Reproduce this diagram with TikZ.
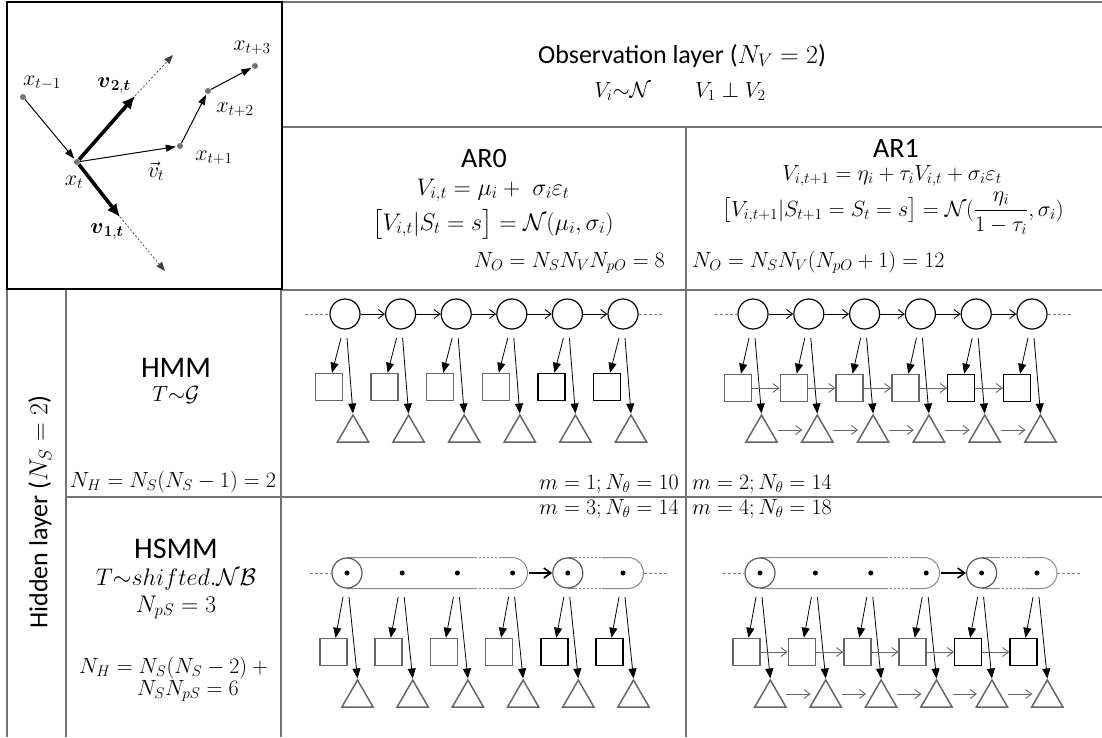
\RequirePackage{fix-cm}
\documentclass[tikz,border=0pt]{standalone}
\usepackage{amsmath}
\usepackage[no-math]{fontspec}
\newfontfamily\calibri{Carlito}
\usetikzlibrary{arrows.meta,shapes.geometric,calc}
\newcommand\fsz[1]{\fontsize{#1}{#1}\selectfont}
\begin{document}
\begin{tikzpicture}[x=1pt,y=-1pt,
  tbl/.style={draw=black!55,line width=1.1pt},
  lbl/.style={inner sep=0pt,anchor=base},
  hc/.style={circle,draw=black,line width=1.2pt,minimum size=30pt,inner sep=0pt},
  sq/.style={rectangle,line width=1.5pt,minimum size=27pt,inner sep=0pt},
  tri/.style={regular polygon,regular polygon sides=3,draw=black!60,line width=1.5pt,minimum size=36pt,inner sep=0pt},
  dotn/.style={circle,fill=black,inner sep=0pt,minimum size=5pt},
  capc/.style={circle,draw=black!65,line width=1.2pt,minimum size=30pt,inner sep=0pt},
  capl/.style={draw=black!45,line width=1pt},
  gapw/.style={draw=white,line width=1.8pt,dash pattern=on 2pt off 2pt},
  trans/.style={-{Straight Barb[length=6pt,width=9pt]},line width=0.9pt,draw=black},
  transg/.style={-{Straight Barb[length=6pt,width=9pt]},line width=0.9pt,draw=black!60},
  ctrans/.style={-{Straight Barb[length=7pt,width=10pt]},line width=1.6pt,draw=black,shorten <=1pt},
  emit/.style={-{Triangle[length=10pt,width=8pt]},line width=0.8pt,draw=black},
  dashl/.style={draw=black!50,line width=0.6pt,dash pattern=on 3pt off 2pt},
  pt/.style={circle,fill=black!55,inner sep=0pt,minimum size=6pt},
  parr/.style={-{Triangle[length=10pt,width=7pt]},line width=1pt,shorten >=1pt},
  bigarr/.style={-{Latex[length=13pt,width=12pt]},line width=3.6pt},
  dotarr/.style={-{Triangle[length=9pt,width=7pt]},line width=0.7pt,draw=black!75,dash pattern=on 2pt off 2pt}
]
\useasboundingbox (0,0) rectangle (1102,737);

% ---------------- table ----------------
\draw[tbl] (282,2) -- (1102,2);
\draw[tbl] (282,127) -- (1102,127);
\draw[tbl] (282,290) -- (1102,290);
\draw[tbl] (686,127) -- (686,737);
\draw[tbl] (7,289) -- (7,737);
\draw[tbl] (66,290) -- (66,737);
\draw[tbl] (281,289) -- (281,737);
\draw[tbl] (66,497) -- (1102,497);
\draw[line width=2.5pt] (7,2) rectangle (282,289);

% ---------------- texts ----------------
\node[lbl] (obs) at (682,63) {\fsz{26}\calibri Observation layer ($N_V=2$)};
\node[lbl] (obs2) at (680,97) {\fsz{22}$V_i{\sim}\mathcal{N}\qquad V_1\perp V_2$};

\node[lbl] (ar0) at (484,167) {\fsz{28}\calibri AR0};
\node[lbl] (ar0a) at (493,195) {\fsz{24}$V_{i,t}=\mu_i+\;\sigma_i\varepsilon_t$};
\node[lbl] (ar0b) at (493,230) {\fsz{24}$\big[V_{i,t}|S_t=s\big]=\mathcal{N}(\mu_i,\sigma_i)$};
\node[lbl,anchor=base east] (no0) at (665,267) {\fsz{22}$N_O=N_SN_VN_{pO}=8$};

\node[lbl] (ar1) at (896,157) {\fsz{28}\calibri AR1};
\node[lbl] (ar1a) at (892,180) {\fsz{22}$V_{i,t+1}=\eta_i+\tau_iV_{i,t}+\sigma_i\varepsilon_t$};
\node[lbl] (ar1b) at (893,216) {\fsz{22}$\big[V_{i,t+1}|S_{t+1}=S_t=s\big]=\mathcal{N}(\dfrac{\eta_i}{1-\tau_i},\sigma_i)$};
\node[lbl,anchor=base west] (no1) at (692,267) {\fsz{22}$N_O=N_SN_V(N_{pO}+1)=12$};

\node[rotate=90,inner sep=0pt] (hid) at (40,512) {\fsz{26}\calibri Hidden layer ($N_S=2$)};

\node[lbl] (hmm) at (176,377) {\fsz{30}\calibri HMM};
\node[lbl] (hmmT) at (176,401) {\fsz{22}$T{\sim}\mathcal{G}$};
\node[lbl] (hmmN) at (173,487) {\fsz{22}$N_H=N_S(N_S-1)=2$};

\node[lbl] (hsmm) at (176,558) {\fsz{30}\calibri HSMM};
\node[lbl] (hsmmT) at (176,585) {\fsz{24}$T{\sim}shifted.\mathcal{N}\mathcal{B}$};
\node[lbl] (hsmmP) at (176,612) {\fsz{24}$N_{pS}=3$};
\node[lbl] (hsmmN1) at (176,673) {\fsz{22}$N_H=N_S(N_S-2)+{}$};
\node[lbl] (hsmmN2) at (188,695) {\fsz{22}$N_SN_{pS}=6$};

\node[lbl,anchor=base east] (m1) at (679,489) {\fsz{22}$m=1;N_\theta=10$};
\node[lbl,anchor=base west] (m2) at (692,489) {\fsz{22}$m=2;N_\theta=14$};
\node[lbl,anchor=base east] (m3) at (679,514) {\fsz{22}$m=3;N_\theta=14$};
\node[lbl,anchor=base west] (m4) at (692,514) {\fsz{22}$m=4;N_\theta=18$};

% ---------------- top-left panel ----------------
\node[pt] (p0) at (23,97) {};
\node[pt] (p1) at (77,162) {};
\node[pt] (p2) at (180,146) {};
\node[pt] (p3) at (208,91) {};
\node[pt] (p4) at (255,66) {};
\coordinate (v2e) at (135,96);
\coordinate (v2d) at (173,55);
\coordinate (v1e) at (120,217);
\coordinate (v1d) at (165,271);
\draw[dotarr] (v2e) -- (v2d);
\draw[dotarr] (v1e) -- (v1d);
\draw[parr] (p0) -- (p1);
\draw[parr] (p1) -- (p2);
\draw[parr] (p2) -- (p3);
\draw[parr] (p3) -- (p4);
\draw[bigarr] (p1) -- (v2e);
\draw[bigarr] (p1) -- (v1e);
\node[lbl] (lx0) at (42,85) {\fsz{22}$x_{t-1}$};
\node[lbl] (lv2) at (114,87) {\fsz{22}$\boldsymbol{v}_{\boldsymbol{2},\boldsymbol{t}}$};
\node[lbl] (lx4) at (252,50) {\fsz{22}$x_{t+3}$};
\node[lbl] (lx3) at (235,112) {\fsz{22}$x_{t+2}$};
\node[lbl] (lx2) at (214,160) {\fsz{22}$x_{t+1}$};
\node[lbl] (lvt) at (156,177) {\fsz{22}$\vec{v}_t$};
\node[lbl] (lx1) at (74,185) {\fsz{22}$x_t$};
\node[lbl] (lv1) at (107,233) {\fsz{22}$\boldsymbol{v}_{\boldsymbol{1},\boldsymbol{t}}$};

% ---------------- HMM / AR0 ----------------
\foreach \k in {1,...,6}{
  \pgfmathsetmacro\cx{345+55.6*(\k-1)}
  \ifnum\k>4 \def\sqc{black}\else\def\sqc{black!60}\fi
  \node[hc] (a\k) at (\cx,314) {};
  \node[sq,draw=\sqc] (as\k) at (\cx-16,387) {};
  \node[tri] (at\k) at (\cx+8,433) {};
  \draw[emit] ($(a\k.center)+(-4,24)$) -- ([xshift=3pt]as\k.north);
  \draw[emit] ($(a\k.center)+(2,24)$) -- (at\k.corner 1);
}
\foreach \k [evaluate=\k as \n using int(\k+1)] in {1,...,5}{\draw[trans] (a\k) -- (a\n);}
\coordinate (a0) at (305,314);
\coordinate (a7) at (662,314);
\draw[dashl] (a0) -- (a1);
\draw[dashl] (a6) -- (a7);

% ---------------- HMM / AR1 ----------------
\foreach \k in {1,...,6}{
  \pgfmathsetmacro\cx{753+55.8*(\k-1)}
  \ifnum\k>4 \def\sqc{black}\else\def\sqc{black!60}\fi
  \node[hc] (b\k) at (\cx,314) {};
  \node[sq,draw=\sqc] (bs\k) at (\cx-15,388) {};
  \node[tri] (bt\k) at (\cx+8.5,433) {};
  \draw[emit] ($(b\k.center)+(-4,24)$) -- ([xshift=3pt]bs\k.north);
  \draw[emit] ($(b\k.center)+(2,24)$) -- (bt\k.corner 1);
}
\foreach \k [evaluate=\k as \n using int(\k+1)] in {1,...,5}{
  \draw[trans] (b\k) -- (b\n);
  \draw[transg] (bs\k) -- (bs\n);
  \draw[transg] ($(bt\k.center)+(16,-3)$) -- ($(bt\n.center)+(-15,-3)$);
}
\coordinate (b0) at (715,314);
\coordinate (b7) at (1072,314);
\draw[dashl] (b0) -- (b1);
\draw[dashl] (b6) -- (b7);

% ---------------- HSMM / AR0 ----------------
\draw[capl] (347,557.5) -- (512,557.5) arc[start angle=90,end angle=-90,radius=15.5pt] -- (347,588.5);
\draw[capl] (568,557.5) -- (628,557.5) arc[start angle=90,end angle=-90,radius=15.5pt] -- (568,588.5);
\draw[gapw] (477,557.5) -- (500,557.5);
\draw[gapw] (477,588.5) -- (500,588.5);
\draw[gapw] (577,557.5) -- (602,557.5);
\draw[gapw] (577,588.5) -- (602,588.5);
\foreach \k in {1,...,6}{
  \pgfmathsetmacro\cx{347+55.2*(\k-1)}
  \ifnum\k>4 \def\sqc{black}\else\def\sqc{black!60}\fi
  \node[dotn] (c\k) at (\cx,573) {};
  \node[sq,draw=\sqc] (cs\k) at (\cx-13.5,652) {};
  \node[tri] (ct\k) at (\cx+10.5,698) {};
  \draw[emit] ($(c\k.center)+(-4,24)$) -- ([xshift=2pt]cs\k.north);
  \draw[emit] ($(c\k.center)+(2,24)$) -- (ct\k.corner 1);
}
\node[capc] (cc1) at (c1) {};
\node[capc] (cc2) at (c5) {};
\coordinate (ce1) at (528,573);
\coordinate (c0) at (310,573);
\coordinate (ce2) at (644,573);
\coordinate (c7) at (667,573);
\draw[ctrans] (ce1) -- (cc2);
\draw[dashl] (c0) -- (cc1);
\draw[dashl] (ce2) -- (c7);

% ---------------- HSMM / AR1 ----------------
\draw[capl] (760,557.5) -- (924,557.5) arc[start angle=90,end angle=-90,radius=15.5pt] -- (760,588.5);
\draw[capl] (981.6,557.5) -- (1041.5,557.5) arc[start angle=90,end angle=-90,radius=15.5pt] -- (981.6,588.5);
\draw[gapw] (888,557.5) -- (910,557.5);
\draw[gapw] (888,588.5) -- (910,588.5);
\draw[gapw] (1000,557.5) -- (1025,557.5);
\draw[gapw] (1000,588.5) -- (1025,588.5);
\foreach \k in {1,...,6}{
  \pgfmathsetmacro\cx{760+55.4*(\k-1)}
  \ifnum\k>4 \def\sqc{black}\else\def\sqc{black!60}\fi
  \node[dotn] (d\k) at (\cx,573) {};
  \node[sq,draw=\sqc] (ds\k) at (\cx-13.5,652) {};
  \node[tri] (dt\k) at (\cx+10.3,698) {};
  \draw[emit] ($(d\k.center)+(-4,24)$) -- ([xshift=2pt]ds\k.north);
  \draw[emit] ($(d\k.center)+(2,24)$) -- (dt\k.corner 1);
}
\foreach \k [evaluate=\k as \n using int(\k+1)] in {1,...,5}{
  \draw[transg] (ds\k) -- (ds\n);
  \draw[transg] ($(dt\k.center)+(16,-4)$) -- ($(dt\n.center)+(-15,-4)$);
}
\node[capc] (dc1) at (d1) {};
\node[capc] (dc2) at (d5) {};
\coordinate (de1) at (940,573);
\coordinate (d0) at (723,573);
\coordinate (de2) at (1057,573);
\coordinate (d7) at (1080,573);
\draw[ctrans] (de1) -- (dc2);
\draw[dashl] (d0) -- (dc1);
\draw[dashl] (de2) -- (d7);
\end{tikzpicture}
\end{document}
